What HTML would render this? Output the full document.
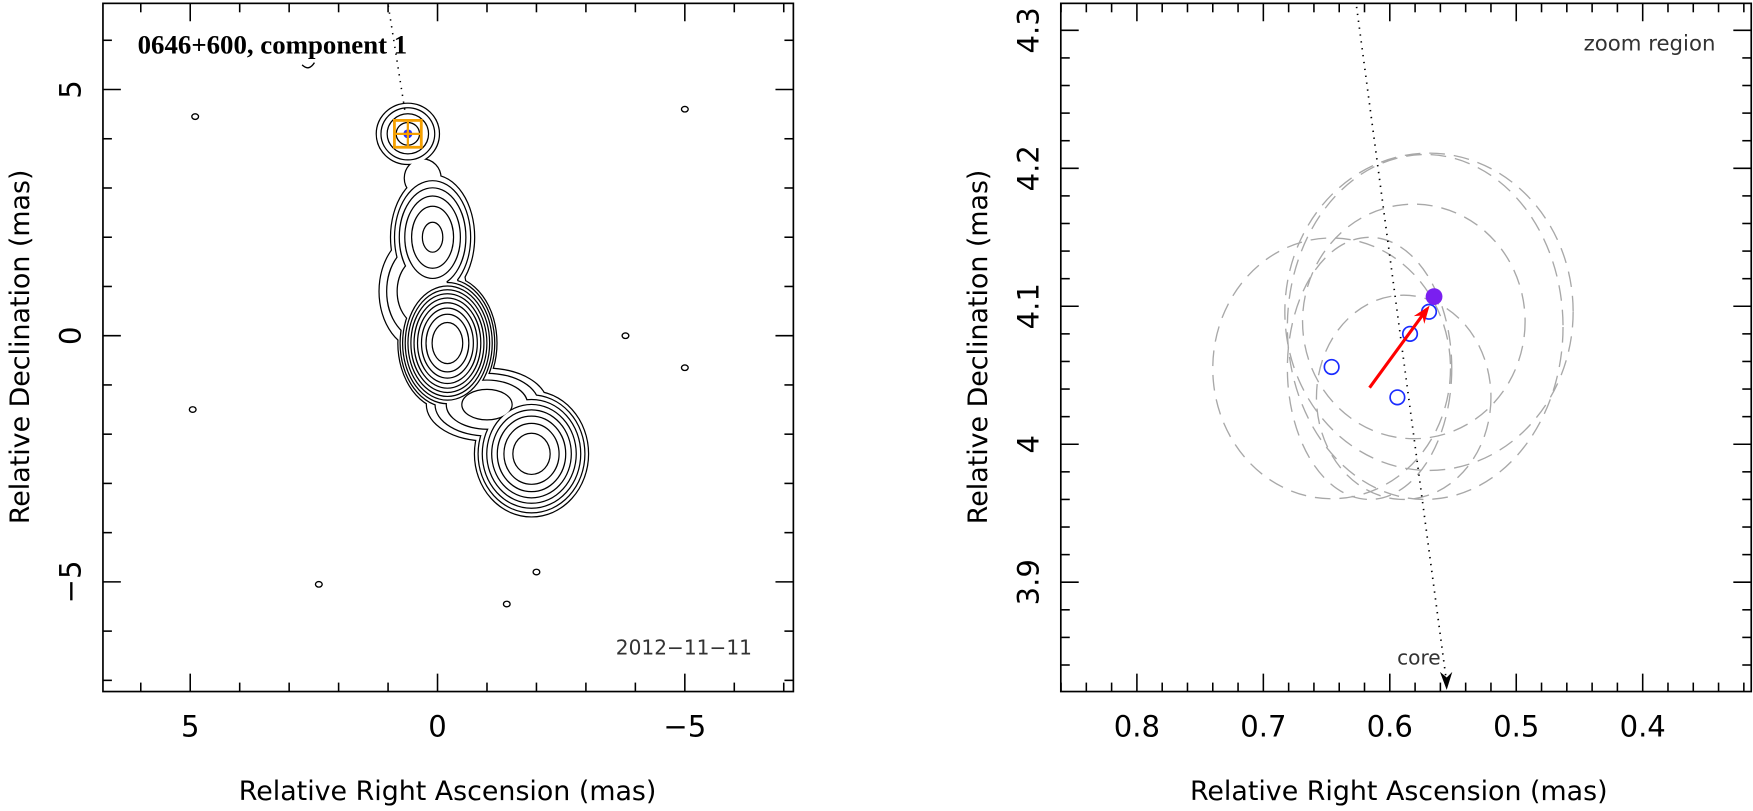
<!DOCTYPE html>
<html><head><meta charset="utf-8"><style>
html,body{margin:0;padding:0;background:#fff;}
svg{display:block;font-family:"DejaVu Sans","Liberation Sans",sans-serif;}
</style></head><body>
<svg id="fig" width="1753" height="811" viewBox="0 0 1753 811" xmlns="http://www.w3.org/2000/svg">
<g transform="scale(1.119)">
<g id="left"></g>
<g id="right"></g>
</g>
</svg>
<script>
// ---------- data: left panel ----------
const contourLevels = [1, 1.5, 2.3, 3.5, 5.3, 8, 12, 18, 27, 40, 60];
const compX  = [0.60, 0.10, 0.30, -0.20, -1.00, -1.90, 0.30, 0.05];
const compY  = [4.10, 2.00, 0.90, -0.15, -1.40, -2.40, 3.20, 1.30];
const compSX = [0.37, 0.40, 0.55, 0.33, 0.70, 0.45, 0.40, 0.45];
const compSY = [0.36, 0.60, 0.75, 0.45, 0.42, 0.50, 0.42, 0.50];
const compPeak = [4.2, 9, 3.5, 90, 4.5, 25, 1.5, 2.2];
const blobX = [4.9, 4.95, 2.4, -2.0, -1.4, -5.0, -5.0, -3.8];
const blobY = [4.45, -1.5, -5.05, -4.8, -5.45, -0.65, 4.6, 0];
const leftXTicks = [5, 0, -5];
const leftYTicks = [5, 0, -5];
// ---------- data: right panel ----------
const ellCX = [0.646, 0.569, 0.572, 0.581, 0.589, 0.616];
const ellCY = [4.055, 4.096, 4.085, 4.089, 4.034, 4.055];
const ellRX = [0.094, 0.114, 0.109, 0.088, 0.069, 0.065];
const ellRY = [0.0945, 0.115, 0.125, 0.085, 0.074, 0.095];
const openX = [0.646, 0.594, 0.584, 0.569];
const openY = [4.056, 4.034, 4.080, 4.096];
const filledPt = [0.565, 4.107];
const arrowFrom = [0.616, 4.041];
const coreLineX = [0.627, 0.555];
const coreLineY = [4.322, 3.822];
const rightXTicks = [0.8, 0.7, 0.6, 0.5, 0.4];
const rightYTicks = [3.9, 4.0, 4.1, 4.2, 4.3];

const NS = "http://www.w3.org/2000/svg";
function mk(parent, tag, attrs, txt){const e=document.createElementNS(NS,tag);for(const k in attrs)e.setAttribute(k,attrs[k]);if(txt!==undefined)e.textContent=txt;parent.appendChild(e);return e;}

// ---- left panel ----
const L = document.getElementById('left');
const lx = v => 391 - v*44.2;
const ly = v => 300 - v*44.0;
const lbox = {x0:92,y0:3,x1:709,y1:618};
contourLevels.forEach((lev) => {
  const g = mk(L,'g',{});
  
  
  const shapes=[];
  for(let i=0;i<compX.length;i++){
    if(compPeak[i]<=lev) continue;
    const f=Math.sqrt(2*Math.log(compPeak[i]/lev));
    shapes.push([lx(compX[i]),ly(compY[i]),compSX[i]*f*44.2,compSY[i]*f*44]);
  }
  shapes.forEach(s=>mk(g,'ellipse',{cx:s[0],cy:s[1],rx:s[2],ry:s[3],fill:'#fff',stroke:'#000','stroke-width':2.2}));
  shapes.forEach(s=>mk(g,'ellipse',{cx:s[0],cy:s[1],rx:s[2],ry:s[3],fill:'#fff'}));
});
blobX.forEach((bx,i)=>{
  const e=mk(L,'ellipse',{cx:lx(bx),cy:ly(blobY[i]),rx:3,ry:2.5,fill:'none',stroke:'#000','stroke-width':1.2});
  
  
});
mk(L,'path',{d:'M270 58 Q276 64 281 56',fill:'none',stroke:'#000','stroke-width':1.2});
const dl=mk(L,'line',{x1:347,y1:5,x2:362,y2:100,stroke:'#000','stroke-width':1.4,'stroke-dasharray':'1.2 5'});


const cmx=lx(0.6), cmy=ly(4.1);
mk(L,'circle',{cx:cmx,cy:cmy,r:4,fill:'#2030ff'});
mk(L,'circle',{cx:cmx,cy:cmy,r:2,fill:'#ff0000'});
const sq=mk(L,'rect',{x:cmx-12,y:cmy-12,width:24,height:24,fill:'none',stroke:'#f5a000','stroke-width':2.5});


mk(L,'line',{x1:cmx-12,y1:cmy,x2:cmx+12,y2:cmy,stroke:'#f5a000','stroke-width':2});
mk(L,'line',{x1:cmx,y1:cmy-12,x2:cmx,y2:cmy+12,stroke:'#f5a000','stroke-width':2});
function frame(G,b,xs,ys,xMinor,yMinor,xfmt,yfmt,fx,fy,majX,majY){
  const r=mk(G,'rect',{x:b.x0,y:b.y0,width:b.x1-b.x0,height:b.y1-b.y0,fill:'none',stroke:'#000','stroke-width':1.5});
  
  
  xMinor.forEach(v=>{const p=fx(v);if(p<b.x0||p>b.x1)return;const len=majX(v)?16:8;
    mk(G,'line',{x1:p,y1:b.y1,x2:p,y2:b.y1-len,stroke:'#000','stroke-width':1.4});
    mk(G,'line',{x1:p,y1:b.y0,x2:p,y2:b.y0+len,stroke:'#000','stroke-width':1.4});});
  yMinor.forEach(v=>{const p=fy(v);if(p<b.y0||p>b.y1)return;const len=majY(v)?16:8;
    mk(G,'line',{x1:b.x0,y1:p,x2:b.x0+len,y2:p,stroke:'#000','stroke-width':1.4});
    mk(G,'line',{x1:b.x1,y1:p,x2:b.x1-len,y2:p,stroke:'#000','stroke-width':1.4});});
  xs.forEach(v=>{const t=mk(G,'text',{x:fx(v),y:b.y1+40,'font-size':26,'text-anchor':'middle',fill:'#000'},xfmt(v));
    });
  ys.forEach(v=>{const y=fy(v);const t=mk(G,'text',{x:b.x0-20,y:y,'font-size':26,'text-anchor':'middle',fill:'#000',transform:`rotate(-90 ${b.x0-20} ${y})`},yfmt(v));
    });
}
const lmin=[];for(let v=-8;v<=8;v++)lmin.push(v);
const fmtL=v=>v<0?'\u2212'+(-v):''+v;
frame(L,lbox,leftXTicks,leftYTicks,lmin,lmin,fmtL,fmtL,lx,ly,v=>v%5===0,v=>v%5===0);
mk(L,'text',{x:123,y:48,'font-size':24,'font-weight':'bold','font-family':'"Liberation Serif",serif',fill:'#000'},'0646+600, component 1');
mk(L,'text',{x:672,y:585,'font-size':18,'text-anchor':'end',fill:'#333'},'2012\u221211\u221211');
mk(L,'text',{x:400,y:715,'font-size':24,'text-anchor':'middle',fill:'#000'},'Relative Right Ascension (mas)');
mk(L,'text',{x:26,y:310,'font-size':24,'text-anchor':'middle',fill:'#000',transform:'rotate(-90 26 310)'},'Relative Declination (mas)');

// ---- right panel ----
const R=document.getElementById('right');
const rx = v => 1016 + (0.8-v)*1130;
const ry = v => 397 - (v-4.0)*1233;
const rbox={x0:948,y0:3,x1:1565,y1:618};
const clipR=mk(R,'clipPath',{id:'rc'});mk(clipR,'rect',{x:948,y:3,width:617,height:615});
const rg=mk(R,'g',{'clip-path':'url(#rc)'});
ellCX.forEach((c,i)=>{
  const e=mk(rg,'ellipse',{cx:rx(c),cy:ry(ellCY[i]),rx:ellRX[i]*1130,ry:ellRY[i]*1233,fill:'none',stroke:'#a8a8a8','stroke-width':1.2,'stroke-dasharray':'14 8'});
  
  
});
const cl=mk(rg,'line',{x1:rx(coreLineX[0]),y1:ry(coreLineY[0]),x2:rx(coreLineX[1]),y2:ry(coreLineY[1])-6,stroke:'#000','stroke-width':1.5,'stroke-dasharray':'1.2 5'});


const hx=rx(coreLineX[1]), hy=ry(coreLineY[1]);
mk(rg,'path',{d:`M${hx} ${hy} L${hx-6} ${hy-16} L${hx} ${hy-11} L${hx+5} ${hy-16} Z`,fill:'#000'});
mk(R,'text',{x:1268,y:594,'font-size':18,'text-anchor':'middle',fill:'#333'},'core');
openX.forEach((v,i)=>{
  const c=mk(rg,'circle',{cx:rx(v),cy:ry(openY[i]),r:6.5,fill:'#fff',stroke:'#1a2cff','stroke-width':1.5});
  
  
});
const ax1=rx(arrowFrom[0]),ay1=ry(arrowFrom[1]),ax2=rx(filledPt[0])-4,ay2=ry(filledPt[1])+8;
const ang=Math.atan2(ay2-ay1,ax2-ax1);
const ar=mk(rg,'line',{x1:ax1,y1:ay1,x2:ax2-10*Math.cos(ang),y2:ay2-10*Math.sin(ang),stroke:'#ff0000','stroke-width':2.8});


const hl=17,hw=0.35;
mk(rg,'path',{d:`M${ax2} ${ay2} L${ax2-hl*Math.cos(ang-hw)} ${ay2-hl*Math.sin(ang-hw)} L${ax2-11*Math.cos(ang)} ${ay2-11*Math.sin(ang)} L${ax2-hl*Math.cos(ang+hw)} ${ay2-hl*Math.sin(ang+hw)} Z`,fill:'#ff0000'});
const fp=mk(rg,'circle',{cx:rx(filledPt[0]),cy:ry(filledPt[1]),r:7.5,fill:'#7a1ff0'});


const rmx=[],rmy=[];for(let k=30;k<=90;k+=2)rmx.push(k/100);for(let k=380;k<=434;k+=2)rmy.push(k/100);
const isMaj=v=>Math.abs(v*10-Math.round(v*10))<1e-6;
frame(R,rbox,rightXTicks,rightYTicks,rmx,rmy,v=>v.toFixed(1),v=>v===4?'4':v.toFixed(1),rx,ry,isMaj,isMaj);
mk(R,'text',{x:1533,y:45,'font-size':19,'text-anchor':'end',fill:'#333'},'zoom region');
mk(R,'text',{x:1250,y:715,'font-size':24,'text-anchor':'middle',fill:'#000'},'Relative Right Ascension (mas)');
mk(R,'text',{x:882,y:310,'font-size':24,'text-anchor':'middle',fill:'#000',transform:'rotate(-90 882 310)'},'Relative Declination (mas)');
</script>
</body></html>
